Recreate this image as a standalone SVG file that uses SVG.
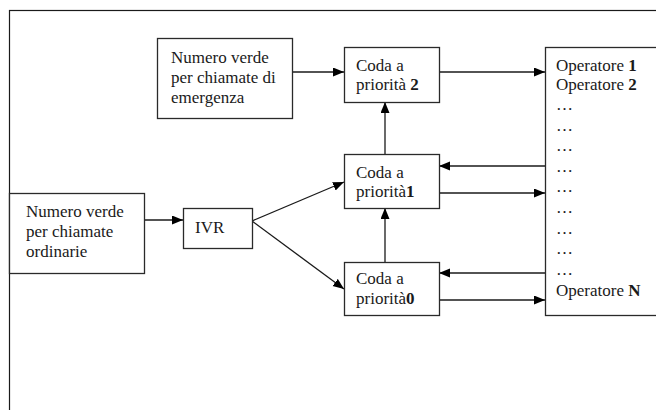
<svg xmlns="http://www.w3.org/2000/svg" width="656" height="410" viewBox="0 0 656 410">
<defs>
<style>
.box{fill:#fff;stroke:#2a2a2a;stroke-width:1.3}
.frame{fill:none;stroke:#1a1a1a;stroke-width:1.2}
.t{font-family:"Liberation Serif","Times New Roman",serif;font-size:17px;fill:#1a1a1a}
.b{font-weight:bold}
.c{fill:none;stroke:#1a1a1a;stroke-width:1.3;marker-end:url(#ah)}
</style>
<marker id="ah" markerUnits="userSpaceOnUse" markerWidth="12" markerHeight="10" refX="11" refY="4.5" orient="auto" viewBox="0 0 12 10">
<path d="M0,0 L11,4.5 L0,9 z" fill="#000"/>
</marker>
</defs>
<rect width="656" height="410" fill="#fff"/>
<rect class="frame" x="9.5" y="10.5" width="700" height="500"/>

<g id="connectors">
<line class="c" x1="292" y1="72" x2="344" y2="72"/>
<line class="c" x1="439" y1="72" x2="545" y2="72"/>
<line class="c" x1="385" y1="154" x2="385" y2="102"/>
<line class="c" x1="385" y1="262" x2="385" y2="208"/>
<line class="c" x1="545" y1="166" x2="439" y2="166"/>
<line class="c" x1="439" y1="193" x2="545" y2="193"/>
<line class="c" x1="545" y1="273" x2="439" y2="273"/>
<line class="c" x1="439" y1="300" x2="545" y2="300"/>
<line class="c" x1="144" y1="220" x2="183" y2="220"/>
<line class="c" x1="252" y1="221" x2="344" y2="182"/>
<line class="c" x1="252" y1="221" x2="344" y2="289"/>
</g>

<g id="emergenza">
<rect class="box" x="157.5" y="38.5" width="135" height="80"/>
<text class="t" x="171" y="63">Numero verde</text>
<text class="t" x="171" y="83">per chiamate di</text>
<text class="t" x="171" y="103">emergenza</text>
</g>

<g id="ordinarie">
<rect class="box" x="9.5" y="193.5" width="135" height="80"/>
<text class="t" x="26" y="217">Numero verde</text>
<text class="t" x="26" y="237">per chiamate</text>
<text class="t" x="26" y="257">ordinarie</text>
</g>

<g id="ivr">
<rect class="box" x="183.5" y="208.5" width="69" height="40"/>
<text class="t" x="195" y="233">IVR</text>
</g>

<g id="coda2">
<rect class="box" x="344.5" y="47.5" width="95" height="55"/>
<text class="t" x="356" y="71">Coda a</text>
<text class="t" x="356" y="89.5">priorità <tspan class="b">2</tspan></text>
</g>

<g id="coda1">
<rect class="box" x="344.5" y="154.5" width="95" height="54"/>
<text class="t" x="356" y="177.5">Coda a</text>
<text class="t" x="356" y="197">priorità<tspan class="b">1</tspan></text>
</g>

<g id="coda0">
<rect class="box" x="344.5" y="262.5" width="95" height="53"/>
<text class="t" x="356" y="284">Coda a</text>
<text class="t" x="356" y="303.5">priorità<tspan class="b">0</tspan></text>
</g>

<g id="operatori">
<rect class="box" x="545.5" y="47.5" width="200" height="268"/>
<text class="t" x="556" y="70.5">Operatore <tspan class="b">1</tspan></text>
<text class="t" x="556" y="89.5">Operatore <tspan class="b">2</tspan></text>
<text class="t" x="556" y="110">…</text>
<text class="t" x="556" y="130.6">…</text>
<text class="t" x="556" y="151.2">…</text>
<text class="t" x="556" y="171.8">…</text>
<text class="t" x="556" y="192.4">…</text>
<text class="t" x="556" y="213">…</text>
<text class="t" x="556" y="233.6">…</text>
<text class="t" x="556" y="254.2">…</text>
<text class="t" x="556" y="274.8">…</text>
<text class="t" x="556" y="295.5">Operatore <tspan class="b">N</tspan></text>
</g>
</svg>
